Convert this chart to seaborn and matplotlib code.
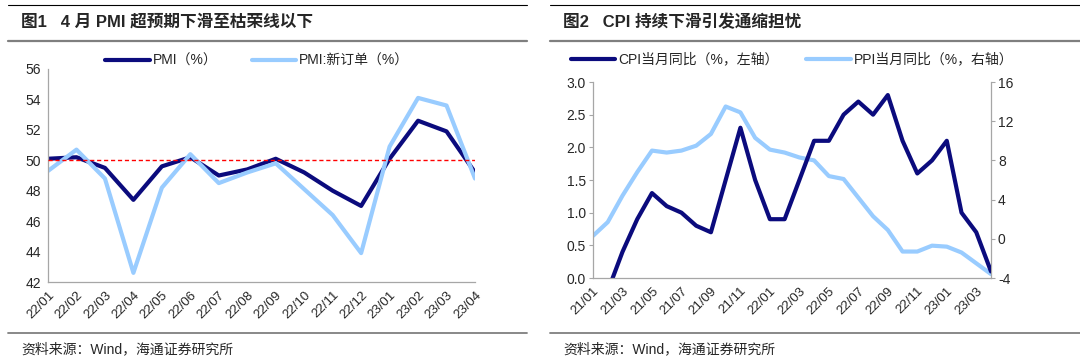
import numpy as np
import matplotlib
matplotlib.use("Agg")
from matplotlib import pyplot as plt
from matplotlib.lines import Line2D
import seaborn as sns

# left chart: PMI, 22/01 - 23/04
pmi_months = ["22/01", "22/02", "22/03", "22/04", "22/05", "22/06", "22/07", "22/08",
              "22/09", "22/10", "22/11", "22/12", "23/01", "23/02", "23/03", "23/04"]
pmi = [50.1, 50.2, 49.5, 47.4, 49.6, 50.2, 49.0, 49.4, 50.1, 49.2, 48.0, 47.0, 50.1, 52.6, 51.9, 49.2]
pmi_new_orders = [49.3, 50.7, 48.8, 42.6, 48.2, 50.4, 48.5, 49.2, 49.8, 48.1, 46.4, 43.9, 50.9, 54.1, 53.6, 48.8]

# right chart: CPI / PPI, 21/01 - 23/04
price_months = ["21/01", "21/02", "21/03", "21/04", "21/05", "21/06", "21/07", "21/08", "21/09",
                "21/10", "21/11", "21/12", "22/01", "22/02", "22/03", "22/04", "22/05", "22/06",
                "22/07", "22/08", "22/09", "22/10", "22/11", "22/12", "23/01", "23/02", "23/03", "23/04"]
cpi = [-0.3, -0.2, 0.4, 0.9, 1.3, 1.1, 1.0, 0.8, 0.7, 1.5, 2.3, 1.5, 0.9, 0.9, 1.5, 2.1,
       2.1, 2.5, 2.7, 2.5, 2.8, 2.1, 1.6, 1.8, 2.1, 1.0, 0.7, 0.1]
ppi = [0.3, 1.7, 4.4, 6.8, 9.0, 8.8, 9.0, 9.5, 10.7, 13.5, 12.9, 10.3, 9.1, 8.8, 8.3, 8.0,
       6.4, 6.1, 4.2, 2.3, 0.9, -1.3, -1.3, -0.7, -0.8, -1.4, -2.5, -3.6]

NAVY = "#0b0b7d"
LIGHT = "#99ccff"
GRAY = "#7f7f7f"

sns.set_style("white")
plt.rcParams["font.family"] = ["Liberation Sans", "Noto Sans CJK SC"]
plt.rcParams["axes.unicode_minus"] = False
plt.rcParams["lines.solid_joinstyle"] = "round"
plt.rcParams["lines.solid_capstyle"] = "round"

W, H = 1080, 363
fig = plt.figure(figsize=(W / 100, H / 100), dpi=100)


def box(x0, y0, x1, y1):
    return [x0 / W, 1 - y1 / H, (x1 - x0) / W, (y1 - y0) / H]


def style_axis(ax):
    for s in ["top", "right"]:
        ax.spines[s].set_visible(False)
    for s in ["left", "bottom"]:
        ax.spines[s].set_color("#a6a6a6")
        ax.spines[s].set_linewidth(0.9)
    ax.tick_params(axis="both", direction="out", length=3, width=0.8, color="#a6a6a6",
                   labelsize=10, pad=2)
    ax.tick_params(axis="x", labelsize=9.5)
    ax.set_xlabel("")
    ax.set_ylabel("")


# decoration lines and texts
def frame(x0, x1, title):
    fig.add_artist(Line2D([x0 / W, x1 / W], [1 - 5 / H] * 2, color="black", lw=0.8))
    fig.add_artist(Line2D([x0 / W, x1 / W], [1 - 41 / H] * 2, color=GRAY, lw=1.6))
    fig.add_artist(Line2D([x0 / W, x1 / W], [1 - 333 / H] * 2, color=GRAY, lw=1.3))
    fig.text((x0 + 13) / W, 1 - 22 / H, title, fontsize=12, fontweight="bold",
             va="center", ha="left")
    fig.text((x0 + 13) / W, 1 - 349 / H, "资料来源：Wind，海通证券研究所", fontsize=10,
             va="center", ha="left")


frame(8, 527, "图1   4 月 PMI 超预期下滑至枯荣线以下")
frame(550, 1080, "图2   CPI 持续下滑引发通缩担忧")

# ---- left chart
ax1 = fig.add_axes(box(48, 69, 475, 282))
x1 = np.arange(len(pmi_months))
sns.lineplot(x=x1, y=pmi, ax=ax1, color=NAVY, lw=3, label="PMI（%）")
sns.lineplot(x=x1, y=pmi_new_orders, ax=ax1, color=LIGHT, lw=3, label="PMI:新订单（%）")
ax1.axhline(50, color="red", lw=1, ls=(0, (3, 2)), zorder=5)
ax1.set_xlim(0, len(pmi_months) - 1)
ax1.set_ylim(42, 56)
ax1.set_yticks(np.arange(42, 57, 2))
ax1.set_xticks(x1)
ax1.set_xticklabels(pmi_months, rotation=45, ha="right", rotation_mode="anchor")
style_axis(ax1)
ax1.legend(loc="center", bbox_to_anchor=(0.49, 1.04), ncol=2, frameon=False, fontsize=10,
           handlelength=3.2, columnspacing=2.5, handletextpad=0.2, borderaxespad=0)

# ---- right chart
ax2 = fig.add_axes(box(593, 82, 991, 278))
x2 = np.arange(len(price_months))
sns.lineplot(x=x2, y=cpi, ax=ax2, color=NAVY, lw=3, label="CPI当月同比（%，左轴）", legend=False)
ax3 = ax2.twinx()
sns.lineplot(x=x2, y=ppi, ax=ax3, color=LIGHT, lw=3, label="PPI当月同比（%，右轴）", legend=False)
ax2.set_zorder(ax3.get_zorder() + 1)
ax2.patch.set_visible(False)
ax2.set_xlim(0, len(price_months) - 1)
ax2.set_ylim(0, 3)
ax2.set_yticks(np.arange(0, 3.01, 0.5))
ax2.set_yticklabels([f"{v:.1f}" for v in np.arange(0, 3.01, 0.5)])
ax3.set_ylim(-4, 16)
ax3.set_yticks(np.arange(-4, 17, 4))
ax2.set_xticks(x2[::2])
ax2.set_xticklabels(price_months[::2], rotation=45, ha="right", rotation_mode="anchor")
style_axis(ax2)
for s in ["top", "left", "bottom"]:
    ax3.spines[s].set_visible(False)
ax3.spines["right"].set_color("#a6a6a6")
ax3.spines["right"].set_linewidth(0.9)
ax3.tick_params(axis="y", direction="out", length=3, width=0.8, color="#a6a6a6",
                labelsize=10, pad=2)
ax3.set_ylabel("")
h1, l1 = ax2.get_legend_handles_labels()
h2, l2 = ax3.get_legend_handles_labels()
ax2.legend(h1 + h2, l1 + l2, loc="center", bbox_to_anchor=(0.5, 1.115), ncol=2, frameon=False,
           fontsize=10, handlelength=3.2, columnspacing=2.0, handletextpad=0.2, borderaxespad=0)

fig.savefig("out.png", dpi=100)
